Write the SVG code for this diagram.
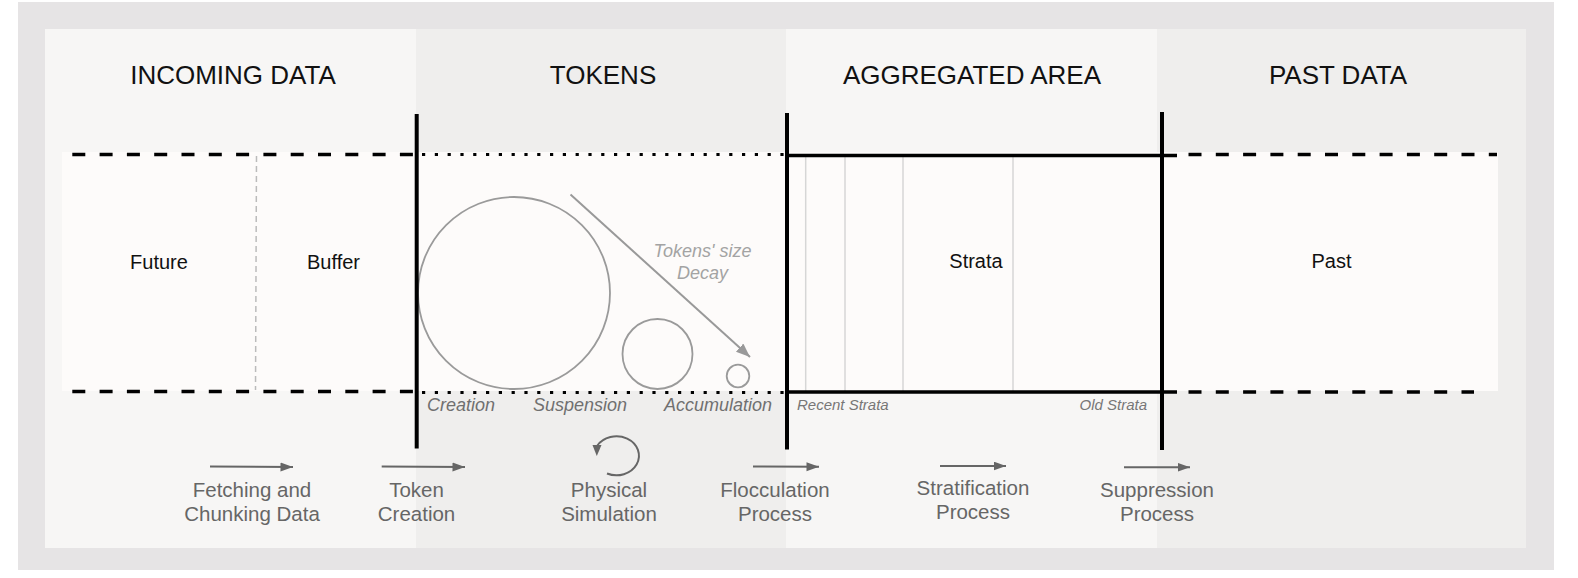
<svg xmlns="http://www.w3.org/2000/svg" width="1578" height="578" viewBox="0 0 1578 578">
<style>
.title{font-family:"Liberation Sans",Arial,sans-serif;font-size:26px;fill:#111;text-anchor:middle}
.lbl{font-family:"Liberation Sans",Arial,sans-serif;font-size:20px;fill:#111;text-anchor:middle}
.sub{font-family:"Liberation Sans",Arial,sans-serif;font-size:18px;font-style:italic;fill:#707070;text-anchor:middle}
.small{font-family:"Liberation Sans",Arial,sans-serif;font-size:15px;font-style:italic;fill:#777}
.decay{font-family:"Liberation Sans",Arial,sans-serif;font-size:18px;font-style:italic;fill:#a3a3a3;text-anchor:middle}
.proc{font-family:"Liberation Sans",Arial,sans-serif;font-size:20.5px;fill:#666;text-anchor:middle}
.dash{stroke:#000;stroke-width:3.5;stroke-dasharray:13 14.3;fill:none}
.dot{stroke:#000;stroke-width:3.2;stroke-dasharray:3.2 9.6;fill:none}
.solid{stroke:#000;stroke-width:3.5;fill:none}
.wall{stroke:#000;stroke-width:4;fill:none}
.stratum{stroke:#d6d6d6;stroke-width:1.5}
.token{fill:none;stroke:#9a9a9a;stroke-width:1.8}
.parrow{stroke:#666;stroke-width:2;fill:none;marker-end:url(#ah)}
</style>
<defs>
<marker id="ah" markerUnits="userSpaceOnUse" markerWidth="13" markerHeight="10" refX="12.5" refY="4.5" orient="auto">
<path d="M0,0 L12.5,4.5 L0,9 z" fill="#666"/>
</marker>
<marker id="ah2" markerUnits="userSpaceOnUse" markerWidth="15" markerHeight="12" refX="14" refY="5.5" orient="auto">
<path d="M0,0 L14,5.5 L0,11 z" fill="#999"/>
</marker>
</defs>

<rect x="18" y="2" width="1536" height="568" fill="#e6e4e5"/>

<g id="panel-incoming">
<rect x="45" y="29" width="371" height="519" fill="#f7f6f5"/>
<text class="title" x="233" y="84">INCOMING DATA</text>
</g>
<g id="panel-tokens">
<rect x="416" y="29" width="370" height="519" fill="#efeeed"/>
<text class="title" x="603" y="84">TOKENS</text>
</g>
<g id="panel-aggregated">
<rect x="786" y="29" width="371" height="519" fill="#f7f6f5"/>
<text class="title" x="972" y="84">AGGREGATED AREA</text>
</g>
<g id="panel-past">
<rect x="1157" y="29" width="369" height="519" fill="#efeeed"/>
<text class="title" x="1338" y="84">PAST DATA</text>
</g>

<rect x="62" y="152" width="1436" height="239" fill="#fdfbfa"/>

<g id="future">
<text class="lbl" x="159" y="269">Future</text>
</g>
<g id="buffer">
<line x1="256.5" y1="156" x2="255.5" y2="390" stroke="#bbb" stroke-width="1.5" stroke-dasharray="6 4"/>
<text class="lbl" x="333.5" y="269">Buffer</text>
</g>

<g id="tokens">
<circle class="token" cx="514" cy="293" r="96"/>
<circle class="token" cx="657.5" cy="354" r="35"/>
<circle class="token" cx="738" cy="376" r="11.3"/>
<line x1="570.5" y1="194.5" x2="750" y2="357" stroke="#999" stroke-width="2" marker-end="url(#ah2)"/>
<text class="decay" x="702.5" y="257">Tokens' size</text>
<text class="decay" x="702.5" y="279">Decay</text>
<text class="sub" x="461" y="411">Creation</text>
<text class="sub" x="580" y="411">Suspension</text>
<text class="sub" x="718" y="411">Accumulation</text>
</g>

<g id="strata">
<line class="stratum" x1="805.7" y1="157" x2="805.7" y2="391"/>
<line class="stratum" x1="845" y1="157" x2="845" y2="391"/>
<line class="stratum" x1="903" y1="157" x2="903" y2="391"/>
<line class="stratum" x1="1013" y1="157" x2="1013" y2="391"/>
<text class="lbl" x="976" y="268">Strata</text>
<text class="small" x="797" y="410">Recent Strata</text>
<text class="small" x="1147" y="410" text-anchor="end">Old Strata</text>
</g>

<g id="past">
<text class="lbl" x="1331.5" y="268">Past</text>
</g>

<g id="connectors">
<line class="dash" x1="72.3" y1="154.5" x2="416" y2="154.5"/>
<line class="dash" x1="72.3" y1="391.5" x2="416" y2="391.5"/>
<line class="dot" x1="422" y1="154.5" x2="786" y2="154.5"/>
<line class="dot" x1="422" y1="392.5" x2="786" y2="392.5"/>
<line class="solid" x1="786" y1="155.5" x2="1177" y2="155.5"/>
<line class="solid" x1="786" y1="392" x2="1177" y2="392"/>
<line class="dash" x1="1188.5" y1="154.5" x2="1497" y2="154.5"/>
<line class="dash" x1="1188.5" y1="392" x2="1474" y2="392"/>
<line class="wall" x1="416.7" y1="114" x2="416.7" y2="448.5"/>
<line class="wall" x1="787" y1="113" x2="787" y2="449.5"/>
<line class="wall" x1="1162" y1="112" x2="1162" y2="450"/>

<line class="parrow" x1="210" y1="466.5" x2="293" y2="467"/>
<line class="parrow" x1="381.7" y1="466.5" x2="465" y2="467"/>
<path d="M607 473.5 A22.5 19.5 0 1 0 597 446" stroke="#666" stroke-width="2" fill="none"/>
<path d="M592.5 445 L601.5 445 L596.8 456 z" fill="#666"/>
<line class="parrow" x1="753" y1="466.5" x2="819" y2="466.7"/>
<line class="parrow" x1="940" y1="466" x2="1006" y2="466"/>
<line class="parrow" x1="1124" y1="467.3" x2="1190" y2="467.3"/>
</g>

<g id="process-labels">
<text class="proc" x="252" y="497">Fetching and</text>
<text class="proc" x="252" y="520.5">Chunking Data</text>
<text class="proc" x="416.5" y="497">Token</text>
<text class="proc" x="416.5" y="520.5">Creation</text>
<text class="proc" x="609" y="497">Physical</text>
<text class="proc" x="609" y="520.5">Simulation</text>
<text class="proc" x="775" y="497">Flocculation</text>
<text class="proc" x="775" y="520.5">Process</text>
<text class="proc" x="973" y="495">Stratification</text>
<text class="proc" x="973" y="519">Process</text>
<text class="proc" x="1157" y="497">Suppression</text>
<text class="proc" x="1157" y="521">Process</text>
</g>
</svg>
